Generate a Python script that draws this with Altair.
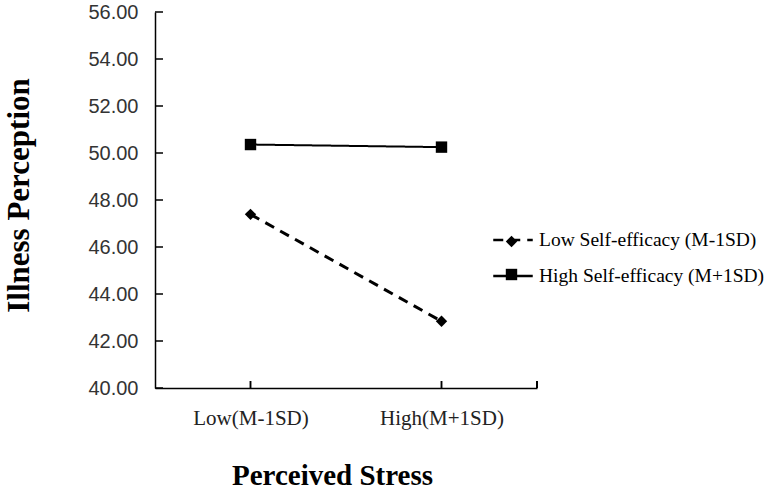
import altair as alt
import pandas as pd

stress_levels = ["Low(M-1SD)", "High(M+1SD)"]
series_names = ["Low Self-efficacy (M-1SD)", "High Self-efficacy (M+1SD)"]
low_self_efficacy = [47.39, 42.84]
high_self_efficacy = [50.36, 50.25]
y_tick_values = [40, 42, 44, 46, 48, 50, 52, 54, 56]

rows = []
for name, vals in zip(series_names, [low_self_efficacy, high_self_efficacy]):
    for lvl, v in zip(stress_levels, vals):
        rows.append({"stress": lvl, "series": name, "value": v})
df = pd.DataFrame(rows)
ticks_df = pd.DataFrame({"value": y_tick_values})

W, H = 382, 376

x_scale = alt.Scale(type="point", padding=0.5, domain=stress_levels)
y_scale = alt.Scale(domain=[40, 56], nice=False, zero=False)

x_axis = alt.Axis(
    title="Perceived Stress", ticks=False, domainColor="black", domainWidth=1.5,
    labelFont="Liberation Serif", labelFontSize=21, labelColor="#222222",
    labelPadding=19, labelAngle=0,
    titleFont="Liberation Serif", titleFontSize=29, titleFontWeight="bold",
    titleColor="black", titleX=177, titleY=96, titleBaseline="alphabetic",
)
y_axis = alt.Axis(
    title="Illness Perception", values=y_tick_values, format=".2f", ticks=False,
    domainColor="black", domainWidth=1.5, grid=False,
    labelFont="Liberation Sans", labelFontSize=20, labelColor="#333333", labelPadding=17,
    titleFont="Liberation Serif", titleFontSize=31, titleFontWeight="bold",
    titleColor="black", titleX=-120, titleY=183,
)

x_enc = alt.X("stress:N", sort=stress_levels, scale=x_scale, axis=x_axis, title="Perceived Stress")
y_enc = alt.Y("value:Q", scale=y_scale, axis=y_axis, title="Illness Perception")

lines = alt.Chart(df).mark_line(color="black").encode(
    x=x_enc,
    y=y_enc,
    strokeDash=alt.StrokeDash(
        "series:N",
        scale=alt.Scale(domain=series_names, range=[[10, 7], [1, 0]]),
        legend=alt.Legend(
            orient="none", legendX=337, legendY=207, title=None,
            symbolType="stroke", symbolSize=1560, symbolStrokeWidth=2.5,
            symbolStrokeColor="black",
            labelFont="Liberation Serif", labelFontSize=19.5, labelColor="black",
            labelLimit=400, rowPadding=5, labelOffset=5,
        ),
    ),
    strokeWidth=alt.StrokeWidth(
        "series:N", scale=alt.Scale(domain=series_names, range=[3, 2]), legend=None
    ),
)

points = alt.Chart(df).mark_point(filled=True, color="black", size=130, opacity=1).encode(
    x=x_enc,
    y=y_enc,
    shape=alt.Shape(
        "series:N",
        scale=alt.Scale(domain=series_names, range=["diamond", "square"]),
        legend=alt.Legend(
            orient="none", legendX=350, legendY=223, title=None,
            symbolSize=130, symbolFillColor="black", symbolStrokeColor="black",
            labelFontSize=1, labelExpr="''", labelOffset=0,
            rowPadding=14,
        ),
    ),
)

y_ticks = alt.Chart(ticks_df).mark_rule(color="black", strokeWidth=1.5).encode(
    y=y_enc,
    x=alt.value(0),
    x2=alt.value(8),
)

x_ticks = alt.Chart(df).mark_rule(color="black", strokeWidth=1.5).encode(
    x=x_enc,
    y=alt.value(H),
    y2=alt.value(H - 7),
)

x_end_tick = alt.Chart(df).mark_rule(color="black", strokeWidth=1.5).encode(
    x=alt.value(W),
    y=alt.value(H),
    y2=alt.value(H - 7),
)

chart = alt.layer(lines, points, y_ticks, x_ticks, x_end_tick).resolve_legend(
    strokeDash="independent", shape="independent"
).properties(
    width=W,
    height=H,
    autosize=alt.AutoSizeParams(type="none"),
    padding={"left": 155, "top": 12, "right": 232, "bottom": 109},
    background="white",
).configure_view(stroke=None)

chart.save("out.html", embed_options={"renderer": "svg", "actions": False})
